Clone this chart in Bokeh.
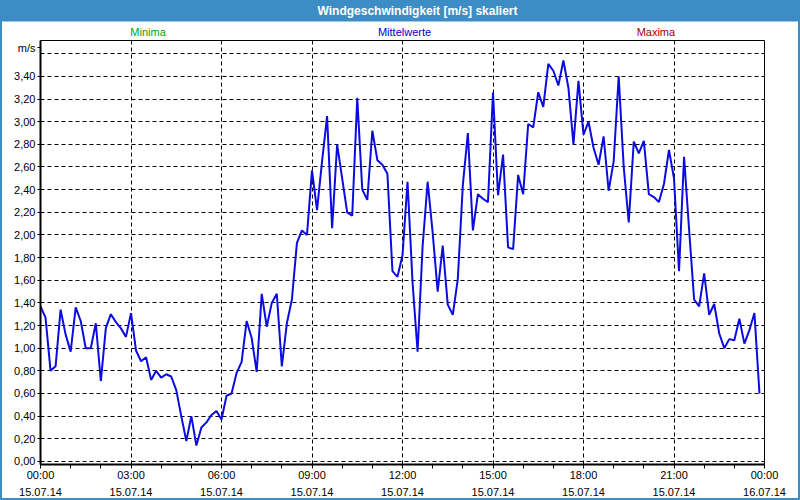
from bokeh.plotting import figure
from bokeh.models import Range1d, FixedTicker, LinearAxis, Label
from bokeh.embed import file_html
from bokeh.resources import INLINE

# sample times in minutes after 15.07.14 00:00 (10-minute values)
minutes = list(range(0, 1440, 10))
wind = [
    1.37, 1.27, 0.80, 0.84, 1.34, 1.12, 0.97, 1.36, 1.24, 1.00, 1.00, 1.22,
    0.71, 1.18, 1.30, 1.23, 1.175, 1.10, 1.31, 0.98, 0.885, 0.92, 0.72, 0.80,
    0.74, 0.77, 0.75, 0.63, 0.40, 0.18, 0.40, 0.14, 0.30, 0.345, 0.41, 0.445,
    0.37, 0.58, 0.60, 0.78, 0.88, 1.24, 1.09, 0.79, 1.48, 1.19, 1.40, 1.48,
    0.84, 1.22, 1.43, 1.93, 2.04, 2.00, 2.57, 2.22, 2.65, 3.05, 2.06, 2.80,
    2.50, 2.20, 2.17, 3.21, 2.40, 2.31, 2.92, 2.66, 2.62, 2.54, 1.68, 1.63,
    1.82, 2.47, 1.58, 0.97, 1.90, 2.47, 2.02, 1.50, 1.905, 1.385, 1.295, 1.61,
    2.44, 2.90, 2.04, 2.36, 2.32, 2.29, 3.26, 2.35, 2.71, 1.89, 1.875, 2.53,
    2.36, 2.98, 2.95, 3.26, 3.13, 3.51, 3.45, 3.32, 3.54, 3.30, 2.80, 3.36,
    2.885, 3.00, 2.77, 2.62, 2.87, 2.39, 2.65, 3.40, 2.60, 2.11, 2.825, 2.72,
    2.83, 2.36, 2.335, 2.29, 2.45, 2.75, 2.50, 1.68, 2.69, 2.05, 1.43, 1.37,
    1.66, 1.295, 1.39, 1.13, 1.00, 1.08, 1.07, 1.26, 1.04, 1.16, 1.31, 0.60,
]

y_ticks = [0, 0.2, 0.4, 0.6, 0.8, 1, 1.2, 1.4, 1.6, 1.8, 2, 2.2, 2.4, 2.6, 2.8, 3, 3.2, 3.4]
y_labels = ["0,00", "0,20", "0,40", "0,60", "0,80", "1,00", "1,20", "1,40", "1,60",
            "1,80", "2,00", "2,20", "2,40", "2,60", "2,80", "3,00", "3,20", "3,40"]
y_grid = y_ticks + [3.6]
unit_text = "m/s"
unit_at = 3.655
x_major = [0, 180, 360, 540, 720, 900, 1080, 1260, 1440]
x_minor = [60, 120, 240, 300, 420, 480, 600, 660, 780, 840, 960, 1020, 1140, 1200, 1320, 1380]
x_time_labels = ["00:00", "03:00", "06:00", "09:00", "12:00", "15:00", "18:00", "21:00", "00:00"]
x_date_labels = ["15.07.14"] * 8 + ["16.07.14"]
title_text = "Windgeschwindigkeit [m/s] skaliert"
legend_names = ["Minima", "Mittelwerte", "Maxima"]
legend_colors = ["#00A800", "#0000D0", "#A00000"]
legend_at = [214, 724, 1224]

FONT = "Liberation Sans"
BAR = "#3C8DC5"

p = figure(width=800, height=500, output_backend="svg", toolbar_location=None,
           title_location=None,
           x_range=Range1d(0, 1440), y_range=Range1d(-0.027, 3.717),
           min_border_left=38, min_border_right=38, min_border_top=38, min_border_bottom=38,
           background_fill_color="white", border_fill_color="white")
p.styles = {"border": f"2px solid {BAR}", "box-sizing": "border-box"}
p.outline_line_color = "black"
p.outline_line_width = 1

p.line(minutes, wind, line_color="#0C0CE0", line_width=2)

# x axes (times, then dates)
xa = p.xaxis[0]
xa.ticker = FixedTicker(ticks=x_major, minor_ticks=x_minor)
xa.major_label_overrides = {t: l for t, l in zip(x_major, x_time_labels)}
xa.major_tick_in = 0
xa.major_tick_out = 4
xa.minor_tick_in = 0
xa.minor_tick_out = 4
xa.major_label_standoff = 0
xa.axis_line_width = 2
xa.major_label_text_font = FONT
xa.major_label_text_font_size = "11px"
xa.major_label_text_color = "black"

xa2 = LinearAxis(ticker=FixedTicker(ticks=x_major),
                 major_label_overrides={t: l for t, l in zip(x_major, x_date_labels)},
                 major_tick_in=0, major_tick_out=0, minor_tick_in=0, minor_tick_out=0,
                 axis_line_color=None, major_label_standoff=4,
                 major_label_text_font=FONT, major_label_text_font_size="11px",
                 major_label_text_color="black")
p.add_layout(xa2, "below")

# y axis
ya = p.yaxis[0]
ya.ticker = FixedTicker(ticks=y_ticks + [unit_at])
overrides = {t: l for t, l in zip(y_ticks, y_labels)}
overrides[unit_at] = unit_text
ya.major_label_overrides = overrides
ya.major_tick_in = 0
ya.major_tick_out = 3
ya.minor_tick_in = 0
ya.minor_tick_out = 0
ya.major_label_standoff = 2
ya.axis_line_width = 2
ya.major_label_text_font = FONT
ya.major_label_text_font_size = "11px"
ya.major_label_text_color = "black"

# grids
p.xgrid.ticker = FixedTicker(ticks=x_major)
p.ygrid.ticker = FixedTicker(ticks=y_grid)
for g in (p.xgrid[0], p.ygrid[0]):
    g.grid_line_color = "black"
    g.grid_line_dash = "4 3"
    g.grid_line_width = 1

# title bar (nearest slot above the frame)
p.add_layout(Label(x=377, y=30, x_units="screen", y_units="screen",
                   text=title_text, text_align="center",
                   text_baseline="middle", text_font=FONT, text_font_size="12px",
                   text_font_style="bold", text_color="white",
                   background_fill_color=BAR, padding=(420, 4)), "above")

# series names above the frame, one coloured label each
for name, color, at in zip(legend_names, legend_colors, legend_at):
    ax = LinearAxis(ticker=FixedTicker(ticks=[at]), major_label_overrides={at: name},
                    major_tick_in=0, major_tick_out=0, minor_tick_in=0, minor_tick_out=0,
                    axis_line_color=None, major_label_standoff=-19,
                    major_label_text_font=FONT, major_label_text_font_size="11px",
                    major_label_text_color=color)
    p.add_layout(ax, "above")

open("out.html", "w").write(file_html(p, INLINE))
